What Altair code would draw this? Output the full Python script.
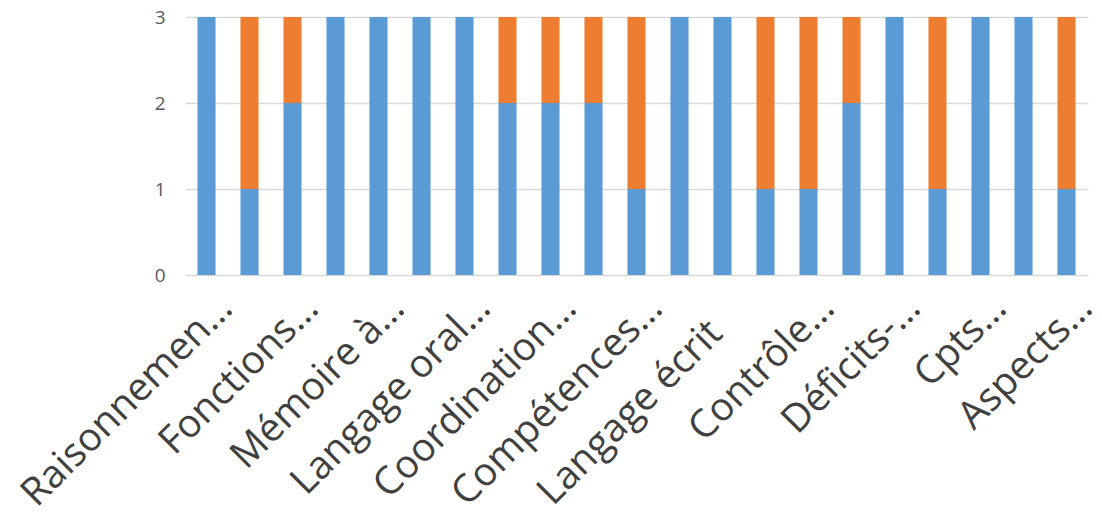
import altair as alt
import pandas as pd

labels = ["Raisonnemen…", "Fonctions…", "Mémoire à…", "Langage oral…", "Coordination…",
          "Compétences…", "Langage écrit", "Contrôle…", "Déficits-…", "Cpts…", "Aspects…"]
blue = [3, 1, 2, 3, 3, 3, 3, 2, 2, 2, 1, 3, 3, 1, 1, 2, 3, 1, 3, 3, 1]
orange = [0, 2, 1, 0, 0, 0, 0, 1, 1, 1, 2, 0, 0, 2, 2, 1, 0, 2, 0, 0, 2]
series = ["Série 1", "Série 2"]

rows = []
for i, (b, o) in enumerate(zip(blue, orange)):
    rows.append({"idx": i, "serie": series[0], "val": b, "ord": 0})
    rows.append({"idx": i, "serie": series[1], "val": o, "ord": 1})
df = pd.DataFrame(rows)

label_js = "[" + ",".join("'" + l + "'" for l in labels) + "]"
untruncated = "indexof(" + label_js + "[datum.value/2], '…') < 0"

chart = alt.Chart(df).mark_bar().encode(
    x=alt.X("idx:O", title=None,
            scale=alt.Scale(paddingInner=0.58, paddingOuter=0.29),
            axis=alt.Axis(values=list(range(0, 21, 2)),
                          labelExpr=label_js + "[datum.value/2]",
                          labelAngle=315, labelAlign="right", labelBaseline="top",
                          labelPadding={"condition": {"test": untruncated, "value": 38}, "value": 13},
                          labelOffset={"condition": {"test": untruncated, "value": -20}, "value": 6},
                          labelFontSize=39, labelFont="Open Sans",
                          labelColor="#404040", ticks=False, domain=False, grid=False,
                          labelOverlap=False, labelLimit=0)),
    y=alt.Y("val:Q", title=None, stack="zero",
            scale=alt.Scale(domain=[0, 3], nice=False),
            axis=alt.Axis(values=[0, 1, 2, 3], format="d", ticks=False, domain=False,
                          labelFontSize=19, labelFont="Open Sans", labelColor="#595959",
                          labelPadding=20, gridColor="#D9D9D9", gridWidth=1.5)),
    color=alt.Color("serie:N", legend=None,
                    scale=alt.Scale(domain=series, range=["#5B9BD5", "#ED7D31"])),
    order=alt.Order("ord:Q"),
).properties(
    width=903, height=258,
    autosize=alt.AutoSizeParams(type="none"),
    padding={"left": 185, "top": 17, "right": 14, "bottom": 250},
).configure_view(stroke=None)

chart.save("out.html", embed_options={"renderer": "svg", "actions": False})
